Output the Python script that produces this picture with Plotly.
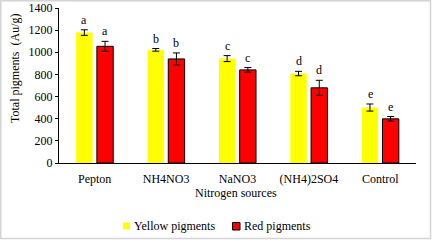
import plotly.graph_objects as go

categories = ["Pepton", "NH4NO3", "NaNO3", "(NH4)2SO4", "Control"]
yellow_vals = [1178, 1022, 943, 808, 501]
yellow_err = [25, 12, 27, 20, 32]
red_vals = [1054, 940, 841, 679, 399]
red_err = [45, 54, 21, 68, 21]
yellow_letters = ["a", "b", "c", "d", "e"]
red_letters = ["a", "b", "c", "d", "e"]
y_ticks = [0, 200, 400, 600, 800, 1000, 1200, 1400]
series_names = ["Yellow pigments", "Red pigments"]
series_colors = ["#ffff00", "#ff0000"]
x_title = "Nitrogen sources"
y_title = "Total pigments  (Au/g)"

FONT = "Liberation Serif, Times New Roman, serif"
W, H = 432, 240
L, R, T, B = 59, 16, 8, 77
PW, PH = W - L - R, H - T - B


def px(x):
    return (x - L) / PW


def py(y):
    return (H - B - y) / PH


fig = go.Figure()
fig.add_trace(go.Bar(
    name=series_names[0], x=categories, y=yellow_vals,
    marker=dict(color=series_colors[0], line=dict(width=0)),
    error_y=dict(type="data", array=yellow_err, color="black", thickness=1, width=3.5),
))
fig.add_trace(go.Bar(
    name=series_names[1], x=categories, y=red_vals,
    marker=dict(color=series_colors[1], line=dict(width=1, color="black")),
    error_y=dict(type="data", array=red_err, color="black", thickness=1, width=3.5),
))

tf = dict(size=12, family=FONT, color="#000000")
annotations = []
for i, c in enumerate(categories):
    annotations.append(dict(x=c, y=yellow_vals[i] + yellow_err[i], xref="x", yref="y",
                            text=yellow_letters[i], showarrow=False, xshift=-10.3,
                            yanchor="bottom", yshift=1, font=tf))
    annotations.append(dict(x=c, y=red_vals[i] + red_err[i], xref="x", yref="y",
                            text=red_letters[i], showarrow=False, xshift=10.3,
                            yanchor="bottom", yshift=1, font=tf))

# axis titles
annotations.append(dict(x=px(236), y=py(193), xref="paper", yref="paper", text=x_title,
                        showarrow=False, xanchor="center", yanchor="middle", font=tf))
annotations.append(dict(x=px(15), y=py(69), xref="paper", yref="paper", text=y_title,
                        showarrow=False, xanchor="center", yanchor="middle", textangle=-90, font=tf))

# custom legend
annotations.append(dict(x=px(131.5), y=py(226), xref="paper", yref="paper", text=series_names[0],
                        showarrow=False, xanchor="left", yanchor="middle", font=tf))
annotations.append(dict(x=px(241.5), y=py(226), xref="paper", yref="paper", text=series_names[1],
                        showarrow=False, xanchor="left", yanchor="middle", font=tf))

shapes = [
    dict(type="rect", xref="paper", yref="paper", x0=px(123), x1=px(130), y0=py(229.5), y1=py(222.5),
         fillcolor=series_colors[0], line=dict(width=0)),
    dict(type="rect", xref="paper", yref="paper", x0=px(232.5), x1=px(240), y0=py(230), y1=py(222.5),
         fillcolor=series_colors[1], line=dict(width=1, color="black")),
    dict(type="rect", xref="paper", yref="paper", x0=px(0.75), x1=px(430.5), y0=py(238.5), y1=py(0.75),
         line=dict(color="#d4d4d4", width=1.5), fillcolor="rgba(0,0,0,0)"),
]

fig.update_layout(
    width=W, height=H,
    margin=dict(l=L, r=R, t=T, b=B, autoexpand=False),
    paper_bgcolor="white", plot_bgcolor="white",
    barmode="group", bargap=0.42, bargroupgap=0.21,
    font=dict(family=FONT, size=12, color="black"),
    showlegend=False,
    annotations=annotations,
    shapes=shapes,
    xaxis=dict(showline=True, linecolor="black", linewidth=1, ticks="",
               tickfont=tf, showgrid=False, automargin=False, ticklabelstandoff=5),
    yaxis=dict(range=[0, 1400], tickvals=y_ticks, showline=True, linecolor="black",
               linewidth=1, ticks="outside", ticklen=3, tickcolor="black",
               showgrid=False, tickfont=tf, automargin=False),
)

fig.write_html("out.html", config={"displayModeBar": False, "staticPlot": True},
               post_script="document.body.style.margin='0';")
